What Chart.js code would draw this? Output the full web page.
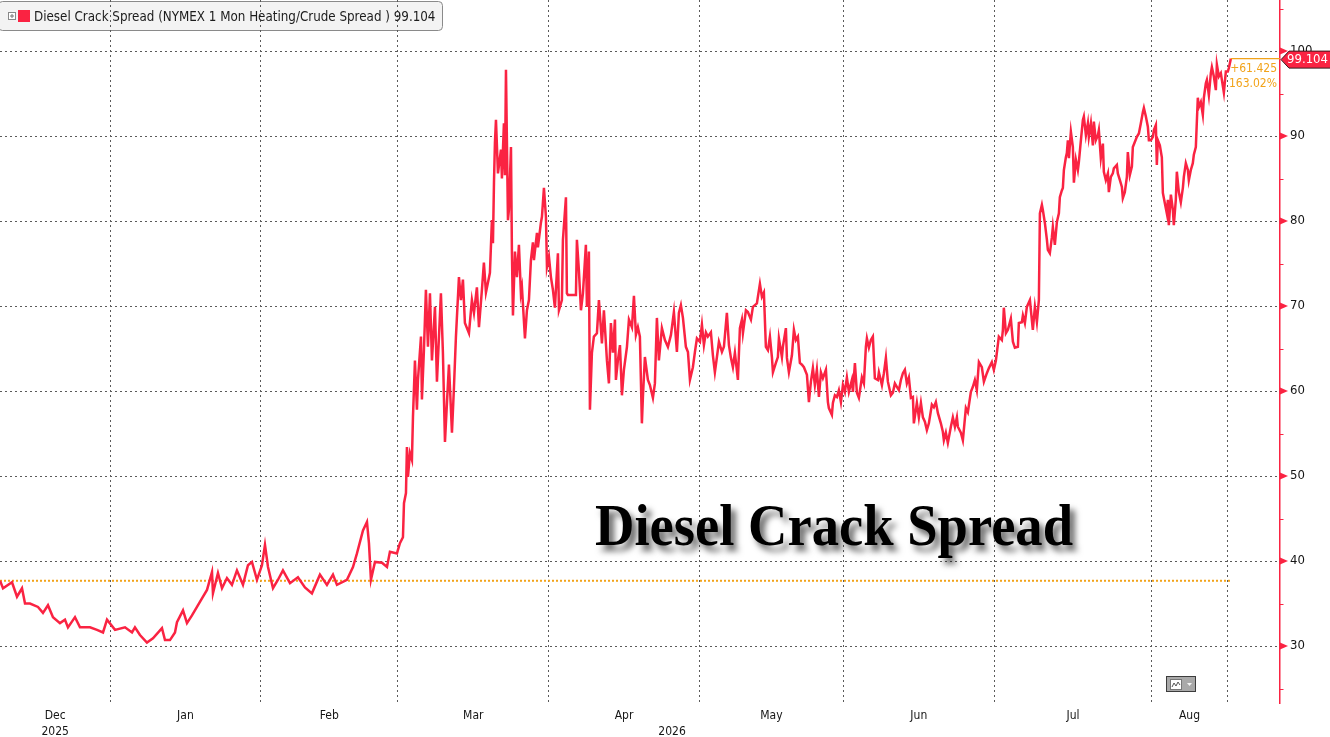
<!DOCTYPE html>
<html><head><meta charset="utf-8">
<script src="https://cdn.jsdelivr.net/npm/chart.js@4.4.1/dist/chart.umd.min.js"></script>
<style>html,body{margin:0;padding:0;background:#fff;overflow:hidden}#wrap{width:1330px;height:737px}</style>
</head><body><div id="wrap"><canvas id="c" width="1330" height="737"></canvas></div>
<script>
// ---- DATA (x = trading-day index counted from Mon 1 Dec 2025) ----
const tradingDay = [
6.95,7.39,8.70,9.43,10.16,10.60,11.33,12.49,13.22,13.95,
14.68,15.70,16.43,16.87,17.89,18.62,20.08,21.10,21.98,22.56,
23.73,25.19,26.21,26.64,27.37,28.39,29.27,30.58,31.02,31.75,
32.48,32.77,33.65,34.23,34.96,35.69,36.42,37.15,37.88,38.02,
38.75,39.34,40.06,40.79,41.52,42.40,43.13,43.71,44.44,45.17,
45.61,46.05,46.78,47.51,48.23,49.26,50.42,51.44,52.46,53.63,
54.65,55.53,56.11,57.57,58.45,59.03,59.91,60.49,60.78,61.07,
61.66,62.68,63.41,63.84,64.86,65.30,
65.74,65.89,66.18,66.32,66.47,66.76,67.05,67.20,67.49,67.78,
67.93,68.37,68.51,68.80,69.09,69.39,69.68,69.97,70.41,70.70,
71.28,71.57,71.87,72.16,72.45,72.89,73.18,73.47,73.91,74.20,
74.49,74.78,75.37,75.80,76.10,76.53,76.83,77.26,77.55,77.85,
78.43,78.72,78.87,79.02,79.16,79.31,79.60,80.04,80.18,80.47,
80.62,80.77,81.06,81.20,81.50,81.64,81.79,82.08,82.37,82.66,
82.95,83.10,83.54,83.83,84.12,84.41,84.70,84.85,85.29,85.43,
85.87,86.02,86.31,86.60,86.75,87.04,87.33,87.62,87.91,88.35,
88.50,88.93,89.08,89.52,89.66,89.81,90.98,91.12,91.41,91.71,
92.00,92.43,92.58,92.87,93.02,93.31,93.60,94.04,94.33,94.77,
95.06,95.50,95.79,96.08,96.37,96.67,
96.81,97.10,97.40,97.69,97.98,98.42,98.71,99.15,99.44,99.73,
100.02,100.31,100.60,100.75,101.04,101.48,101.77,102.21,102.50,102.79,
103.08,103.52,103.96,104.40,104.84,105.27,105.71,106.00,106.29,106.59,
107.02,107.32,107.61,108.04,108.34,108.63,109.07,109.36,109.65,109.94,
110.23,110.67,110.96,111.25,111.55,111.84,112.28,112.57,113.00,113.30,
113.59,113.88,114.17,114.61,114.90,115.19,115.34,115.78,116.07,116.51,
116.80,117.38,117.53,117.82,118.11,118.40,118.69,118.99,119.28,119.57,
119.72,120.15,120.44,120.59,121.03,121.17,121.61,121.76,122.05,122.49,
122.78,123.07,123.36,123.65,123.95,124.24,124.68,124.97,125.26,125.55,
125.84,126.13,126.43,126.72,127.01,127.45,127.74,127.88,128.32,128.47,
128.76,129.05,129.34,129.64,129.93,130.22,130.51,130.80,131.24,131.39,
131.68,131.97,132.26,132.70,132.99,133.28,133.43,133.72,134.01,134.30,
134.59,135.03,135.18,135.62,135.91,136.20,136.49,136.93,137.22,137.51,
137.80,138.10,138.39,138.68,138.97,139.26,139.55,139.85,140.14,140.28,
140.72,141.01,141.31,141.60,141.89,142.18,142.47,142.91,143.20,143.49,
143.79,144.22,144.51,144.66,144.95,145.24,145.68,145.97,146.27,146.56,
146.70,147.14,147.43,147.87,148.16,148.60,148.89,149.18,149.47,149.77,
150.20,150.50,150.93,151.23,151.66,151.95,152.25,
152.68,153.12,153.27,153.41,153.71,154.00,154.43,154.73,155.02,155.46,
155.60,156.04,156.19,156.48,156.77,157.21,157.64,157.94,158.23,158.52,
158.67,158.96,159.10,159.39,159.69,159.83,160.12,160.42,160.56,160.85,
161.15,161.44,161.58,161.87,162.02,162.17,162.46,162.60,162.75,162.90,
163.19,163.48,163.63,163.92,164.21,164.35,164.65,164.94,165.08,165.38,
165.67,165.81,166.11,166.40,166.54,166.83,167.13,167.27,167.56,167.86,
168.00,168.29,168.59,168.73,169.02,169.31,169.46,169.90,170.04,170.34,
170.63,170.77,171.06,171.36,171.50,171.79,172.09,172.23,172.52,172.82,
173.11,173.40,173.69,173.84,174.13,174.42,174.57,174.86,175.15,175.30,
175.59,175.73,175.88,176.17,176.46,176.61,176.90,177.19,177.34,177.48,
177.78,178.07,178.21,178.50,178.65,178.94,179.23,179.53,179.67,179.96,
180.26,180.40,180.69,180.98,181.13,181.42,181.57,181.71,181.86,182.15,
182.44,182.59,182.88,183.03,183.32,183.61,183.76,184.05,184.34,184.49,
184.78,185.07,185.22,185.51,185.80,186.09,186.24,186.53
];
const spread = [
37.68,36.8,37.5,35.8,36.8,35.0,35.0,34.6,33.9,34.8,
33.4,32.7,33.1,32.2,33.4,32.2,32.2,31.9,31.6,33.1,
31.9,32.2,31.6,32.2,31.3,30.4,30.9,32.1,30.7,30.7,
31.6,32.8,34.2,32.7,33.6,34.6,35.6,36.6,38.7,36.2,
38.6,36.8,38.0,37.2,38.9,37.2,39.5,39.9,37.8,39.5,
41.9,39.3,36.8,37.8,38.9,37.4,38.1,36.9,36.2,38.4,
37.2,38.4,37.2,37.8,39.3,40.9,43.6,44.6,42.1,37.8,
39.9,39.8,39.3,41.1,40.9,42.1,
42.8,46.8,48.0,53.4,49.9,52.7,51.9,56.9,63.6,57.8,
61.3,66.4,59.0,64.8,71.9,65.2,71.5,63.6,69.9,61.1,
71.5,64.5,54.0,58.6,63.1,55.1,60.4,66.4,73.4,70.7,
73.1,68.0,66.8,70.7,69.2,72.2,67.5,71.9,75.1,71.6,
73.9,80.1,77.4,84.5,89.2,91.9,85.6,88.4,85.0,91.5,
85.4,97.8,80.1,81.3,88.7,76.2,68.9,76.4,73.4,77.2,
71.5,72.2,66.2,69.5,70.7,75.4,77.5,75.4,78.6,76.9,
79.8,80.5,83.9,80.5,74.6,75.8,73.4,71.9,69.8,76.2,
69.5,70.7,77.8,82.8,71.5,71.3,71.3,77.8,74.2,69.5,
71.5,77.2,69.9,76.4,57.8,64.5,66.4,66.8,70.7,65.6,
69.5,63.6,60.9,68.0,64.5,68.4,
61.3,63.6,65.4,59.5,62.5,65.2,68.4,67.5,71.2,66.6,
67.5,66.4,56.2,59.3,64.0,61.3,60.7,59.2,60.9,68.6,
63.6,67.4,66.0,65.2,66.6,69.3,64.6,69.2,70.1,68.6,
65.2,64.6,61.3,62.8,64.6,66.2,65.8,67.8,65.4,66.9,
66.4,66.9,64.2,62.2,64.0,65.8,64.6,65.2,69.2,65.4,
63.9,62.8,64.5,61.3,67.4,68.4,66.8,69.5,69.3,68.4,
69.9,70.3,71.1,72.6,71.1,71.6,65.2,64.8,66.4,64.0,
62.2,63.3,64.0,66.2,64.0,65.2,67.4,63.9,62.2,64.2,
67.2,66.0,66.4,63.3,63.1,62.8,61.9,58.7,61.1,62.7,
60.7,62.5,59.3,62.2,61.5,62.5,58.7,58.0,57.2,58.6,
59.5,59.3,60.1,58.7,60.7,59.9,61.6,59.9,61.3,59.9,
63.3,59.8,59.2,61.6,60.9,65.2,66.2,65.1,66.0,66.4,
61.5,61.3,62.2,60.7,62.1,63.9,61.1,59.5,59.8,60.9,
60.5,60.1,61.3,62.1,62.5,60.9,61.6,59.2,59.3,56.2,
58.6,56.9,58.6,56.9,56.4,55.4,56.2,58.4,58.1,58.7,
57.4,56.2,55.2,54.2,55.1,53.9,55.8,56.9,55.8,56.9,
55.8,55.1,54.2,58.0,57.5,59.9,60.5,61.3,60.1,63.4,
62.8,61.1,62.1,62.7,63.4,62.5,63.6,
66.4,66.0,67.2,69.8,66.8,67.2,68.5,65.8,65.1,65.2,
68.0,68.1,68.9,68.0,69.9,70.7,67.2,69.9,68.1,70.7,
80.9,81.9,81.3,79.8,77.8,76.6,76.2,78.1,79.3,77.2,
79.9,80.9,82.8,83.6,83.9,86.0,87.5,88.0,89.5,87.4,
90.5,88.7,84.5,87.2,86.0,86.9,89.5,91.9,92.3,90.1,
91.5,89.9,91.5,88.9,91.7,89.5,90.1,90.7,87.4,89.1,
85.8,84.8,85.6,83.4,85.2,85.6,86.2,86.6,85.6,84.8,
84.0,82.7,83.4,85.2,88.1,85.4,86.4,88.7,89.3,89.9,
90.3,91.5,92.8,93.3,92.3,91.1,89.5,89.5,89.9,90.7,
91.3,86.6,89.5,88.9,87.5,83.3,82.1,80.9,82.5,79.5,
83.1,81.3,79.5,82.5,85.8,83.4,82.2,83.9,85.2,86.8,
86.0,84.8,86.0,86.8,87.8,88.7,91.7,94.5,93.4,94.0,
92.5,94.5,96.2,96.6,94.8,97.4,98.1,97.0,95.4,98.4,
97.0,97.4,96.6,95.1,97.6,97.6,98.0,99.104
];
const monthStartDays = [23,45,65,87,109,130,152,175,186];
const monthLabelDays = [15,34,55,76,98,119.5,141,163.5,180.5];
const monthLabels = [["Dec","2025"],"Jan","Feb","Mar","Apr","May","Jun","Jul","Aug"];
const yearLabelDay = 105;
const yearLabel = "2026";
const yTickValues = [30,40,50,60,70,80,90,100];
const yMinorValues = [25,35,45,55,65,75,85,95,105];
const seriesName = "Diesel Crack Spread (NYMEX 1 Mon Heating/Crude Spread )";
const startValue = 37.679;
const lastValue = 99.104;
const netChange = "+61.425";
const pctChange = "163.02%";
const chartTitle = "Diesel Crack Spread";
const xRange = [6.95, 193.7];
const yRange = [23.3, 106];

// ---- STYLE ----
const RED = '#fa2342';
const ORANGE = '#f2a31a';
const GRID = '#5a5a5a';
const FONT = '"DejaVu Sans Condensed","DejaVu Sans",sans-serif';

const n = Math.min(tradingDay.length, spread.length);
const points = [];
for (let i = 0; i < n; i++) points.push({x: tradingDay[i], y: spread[i]});
const lastDay = tradingDay[n - 1];

function noPad(s) { s.paddingTop = 0; s.paddingBottom = 0; s.paddingLeft = 0; s.paddingRight = 0; }

const decor = {
  id: 'decor',
  beforeDraw(chart) {
    const c = chart.ctx;
    c.save();
    c.fillStyle = '#fff';
    c.fillRect(0, 0, chart.width, chart.height);
    c.beginPath();
    c.roundRect(-1.5, 1.5, 444, 29, 4);
    c.fillStyle = '#f3f3f3';
    c.fill();
    c.strokeStyle = '#8a8a8a';
    c.lineWidth = 1;
    c.stroke();
    c.restore();
  },
  afterDatasetsDraw(chart) {
    const c = chart.ctx;
    c.save();
    c.font = 'bold 60px "Liberation Serif", "DejaVu Serif", serif';
    const w = c.measureText(chartTitle).width;
    c.translate(595, 545);
    c.scale(478 / w, 1);
    c.shadowColor = 'rgba(0,0,0,0.6)';
    c.shadowOffsetX = 5;
    c.shadowOffsetY = 6;
    c.shadowBlur = 6;
    c.fillStyle = '#000';
    c.textBaseline = 'alphabetic';
    c.fillText(chartTitle, 0, 0);
    c.restore();
  },
  afterDraw(chart) {
    const c = chart.ctx;
    const ys = chart.scales.y;
    const right = chart.chartArea.right;
    c.save();
    c.fillStyle = RED;
    c.strokeStyle = RED;
    c.lineWidth = 1;
    yTickValues.forEach(v => {
      const py = ys.getPixelForValue(v);
      c.beginPath();
      c.moveTo(right, py - 3.5);
      c.lineTo(right + 8, py);
      c.lineTo(right, py + 3.5);
      c.closePath();
      c.fill();
    });
    yMinorValues.forEach(v => {
      const py = Math.round(ys.getPixelForValue(v)) + 0.5;
      if (py < 2 || py > chart.chartArea.bottom) return;
      c.beginPath();
      c.moveTo(right, py);
      c.lineTo(right + 3.5, py);
      c.stroke();
    });
    // legend content
    c.strokeStyle = '#888';
    c.fillStyle = '#fff';
    c.fillRect(8.5, 12.5, 7, 7);
    c.strokeRect(8.5, 12.5, 7, 7);
    c.beginPath();
    c.moveTo(10, 16); c.lineTo(14, 16);
    c.moveTo(12, 14); c.lineTo(12, 18);
    c.strokeStyle = '#777';
    c.stroke();
    c.fillStyle = RED;
    c.fillRect(18, 10, 12, 12);
    const legendText = seriesName + ' ' + lastValue.toFixed(3);
    let fs = 12;
    c.font = fs + 'px ' + FONT;
    const lw = c.measureText(legendText).width;
    fs = Math.max(10, Math.min(14, fs * 402 / lw));
    c.font = fs + 'px ' + FONT;
    c.fillStyle = '#1c1c1c';
    c.textBaseline = 'alphabetic';
    c.fillText(legendText, 34, 21);
    // change annotations (right-aligned just left of the axis)
    c.font = '12px ' + FONT;
    c.fillStyle = ORANGE;
    c.textBaseline = 'middle';
    c.textAlign = 'right';
    c.fillText(netChange, right - 3, 68.5);
    c.fillText(pctChange, right - 3, 84);
    c.textAlign = 'left';
    // last value badge
    const by = ys.getPixelForValue(lastValue) + 1;
    c.beginPath();
    c.moveTo(right + 1, by);
    c.lineTo(right + 9, by - 8.5);
    c.lineTo(chart.width + 2, by - 8.5);
    c.lineTo(chart.width + 2, by + 8.5);
    c.lineTo(right + 9, by + 8.5);
    c.closePath();
    c.fillStyle = RED;
    c.fill();
    c.strokeStyle = '#3a1a1e';
    c.lineWidth = 1;
    c.stroke();
    c.fillStyle = '#fff';
    c.font = '13px ' + FONT;
    c.textBaseline = 'middle';
    c.textAlign = 'right';
    c.fillText(lastValue.toFixed(3), chart.width - 2, by + 0.5);
    c.textAlign = 'left';
    // small chart-type button
    c.fillStyle = '#a9a9a9';
    c.fillRect(1166.5, 676.5, 29, 15);
    c.strokeStyle = '#3c3c3c';
    c.strokeRect(1166.5, 676.5, 29, 15);
    c.fillStyle = '#fff';
    c.fillRect(1170.5, 679.5, 11, 10);
    c.strokeStyle = '#777';
    c.strokeRect(1170.5, 679.5, 11, 10);
    c.beginPath();
    c.moveTo(1172, 687); c.lineTo(1174, 683); c.lineTo(1176, 686); c.lineTo(1178, 682); c.lineTo(1180, 685);
    c.strokeStyle = '#555';
    c.stroke();
    c.fillStyle = '#f4f4f4';
    c.beginPath();
    c.moveTo(1187, 683); c.lineTo(1192, 683); c.lineTo(1189.5, 686); c.closePath();
    c.fill();
    c.restore();
  }
};

new Chart(document.getElementById('c'), {
  type: 'line',
  data: {
    datasets: [
      {data: points, borderColor: RED, borderWidth: 2.5, pointRadius: 0, tension: 0, xAxisID: 'x', yAxisID: 'y', order: 1},
      {data: [{x: tradingDay[0], y: startValue}, {x: lastDay, y: startValue}], borderColor: ORANGE, borderWidth: 2, borderDash: [2, 2], pointRadius: 0, xAxisID: 'x', yAxisID: 'y', order: 2},
      {data: [{x: lastDay, y: lastValue}, {x: xRange[1], y: lastValue}], borderColor: ORANGE, borderWidth: 1.2, pointRadius: 0, xAxisID: 'x', yAxisID: 'y', order: 0}
    ]
  },
  options: {
    responsive: false,
    animation: false,
    devicePixelRatio: 1,
    layout: {padding: 0},
    plugins: {legend: {display: false}, tooltip: {enabled: false}},
    scales: {
      x: {
        type: 'linear', position: 'bottom', min: xRange[0], max: xRange[1],
        afterBuildTicks: s => { s.ticks = monthStartDays.map(v => ({value: v})); },
        ticks: {display: false},
        grid: {color: GRID, lineWidth: 1, drawTicks: false},
        border: {display: false, dash: [2, 3]},
        afterFit: s => { s.height = 0; noPad(s); }
      },
      xl: {
        type: 'linear', position: 'bottom', min: xRange[0], max: xRange[1],
        afterBuildTicks: s => { s.ticks = monthLabelDays.map(v => ({value: v})).concat([{value: yearLabelDay}]); },
        ticks: {
          autoSkip: false, maxRotation: 0, padding: 5, color: '#151515',
          font: {family: FONT, size: 12, lineHeight: 1.33},
          callback: (v, i) => i < monthLabels.length ? monthLabels[i] : ['', yearLabel]
        },
        grid: {display: false, drawTicks: false},
        border: {display: false},
        afterFit: s => { s.height = 34; noPad(s); }
      },
      y: {
        position: 'right', min: yRange[0], max: yRange[1],
        afterBuildTicks: s => { s.ticks = yTickValues.map(v => ({value: v})); },
        ticks: {color: '#151515', padding: 10, font: {family: FONT, size: 13}},
        grid: {color: GRID, lineWidth: 1, drawTicks: false},
        border: {display: true, color: RED, width: 1.5, dash: [2, 3]},
        afterFit: s => { s.width = 50; noPad(s); }
      }
    }
  },
  plugins: [decor]
});
</script></body></html>
